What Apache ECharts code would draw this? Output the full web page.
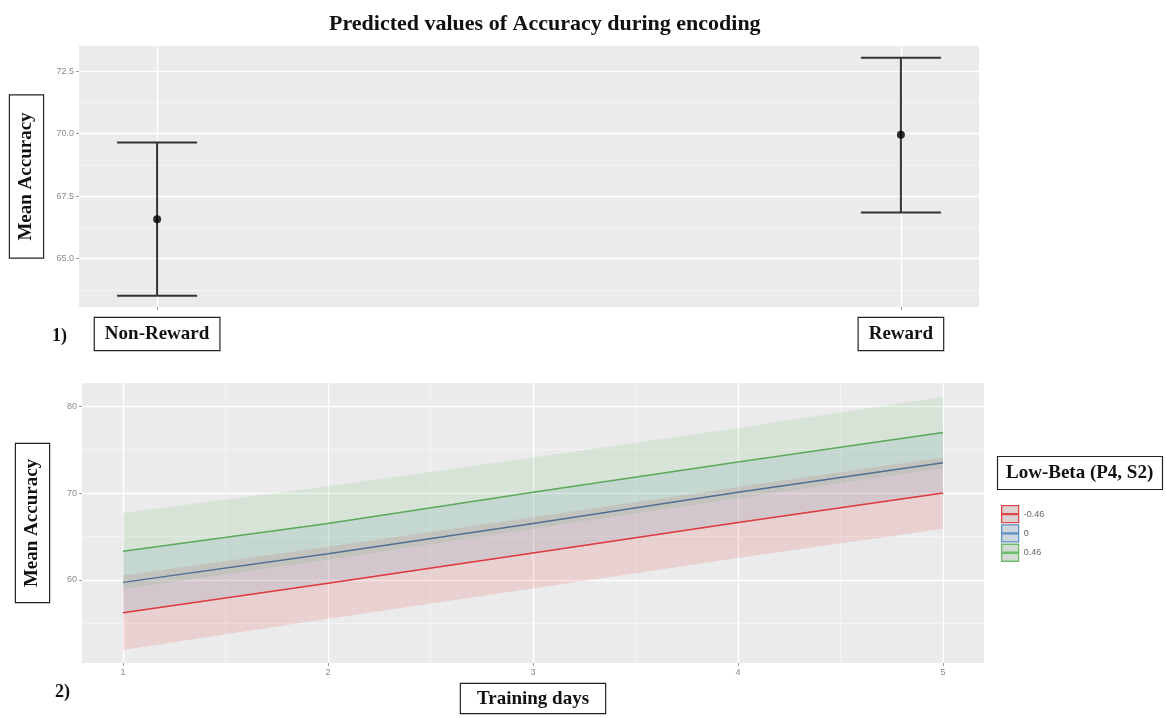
<!DOCTYPE html>
<html><head><meta charset="utf-8">
<script src="https://cdn.jsdelivr.net/npm/echarts@6/dist/echarts.min.js"></script>
<style>html,body{margin:0;padding:0;background:#fff}#c{width:1166px;height:718px}</style>
</head><body><div id="c"></div>
<script>
// ---- Panel 1 data ----
const groups = ['Non-Reward', 'Reward'];
const groupPos = [1, 2];
const groupMean = [66.58, 69.95];
const groupLower = [63.52, 66.85];
const groupUpper = [69.64, 73.03];
const topYMajor = [65, 67.5, 70, 72.5];
const topYMinor = [63.75, 66.25, 68.75, 71.25];

// ---- Panel 2 data ----
const days = [1, 2, 3, 4, 5];
const betaLevels = ['-0.46', '0', '0.46'];
const fitNeg = [56.2, 59.6, 63.1, 66.6, 70.0];
const fitZero = [59.7, 63.0, 66.5, 70.1, 73.5];
const fitPos = [63.3, 66.5, 70.1, 73.6, 77.0];
const lowNeg = [51.9, 55.5, 59.0, 62.5, 65.9];
const upNeg = [60.5, 63.8, 67.2, 70.7, 74.1];
const lowZero = [56.1, 59.5, 63.0, 66.5, 69.9];
const upZero = [63.3, 66.6, 70.1, 73.6, 77.1];
const lowPos = [58.9, 62.3, 65.9, 69.4, 72.9];
const upPos = [67.7, 70.8, 74.1, 77.5, 81.1];
const botYMajor = [60, 70, 80];
const botYMinor = [55, 65, 75];
const botXMinor = [1.5, 2.5, 3.5, 4.5];

const fits = [fitNeg, fitZero, fitPos];
const lows = [lowNeg, lowZero, lowPos];
const ups = [upNeg, upZero, upPos];
const lineColors = ['#e0383c', '#4f6f93', '#5aaa56'];
const fillColors = ['rgba(228,26,28,0.12)', 'rgba(55,126,184,0.12)', 'rgba(77,175,74,0.12)'];
const legendBorder = ['#e04a4c', '#5b8fc8', '#6cbb68'];
const legendFill = ['#dcd0d1', '#cfd6de', '#d3dcd2'];

const serif = '"Liberation Serif", "DejaVu Serif", serif';
const tickFont = { fontFamily: 'Liberation Sans, Arial, sans-serif', fontSize: 9, color: '#8a8a8a' };
const boxText = {
  fontFamily: serif, fontWeight: 'bold', fontSize: 19, color: '#111',
  borderColor: '#222', borderWidth: 1.2, backgroundColor: '#fff'
};

function gridLines(major, minor, axisKey) {
  const d = [];
  major.forEach(v => d.push({ [axisKey]: v, lineStyle: { color: '#ffffff', width: 1.4, type: 'solid' } }));
  minor.forEach(v => d.push({ [axisKey]: v, lineStyle: { color: '#f5f5f5', width: 0.8, type: 'solid' } }));
  return d;
}

const chart = echarts.init(document.getElementById('c'));

const series = [];
// Panel 1 gridlines (carrier series)
series.push({
  type: 'line', xAxisIndex: 0, yAxisIndex: 0, z: 1,
  data: groupPos.map((p, i) => [p, groupMean[i]]),
  lineStyle: { opacity: 0 }, showSymbol: false, symbol: 'none', silent: true,
  markLine: {
    z: 1, silent: true, symbol: ['none', 'none'], label: { show: false },
    data: gridLines(topYMajor, topYMinor, 'yAxis').concat(gridLines(groupPos, [], 'xAxis'))
  }
});
// Error bars
series.push({
  type: 'custom', xAxisIndex: 0, yAxisIndex: 0, z: 3,
  data: groupPos.map((p, i) => [p, groupLower[i], groupUpper[i]]),
  renderItem: function (params, api) {
    const x = api.value(0);
    const top = api.coord([x, api.value(2)]);
    const bot = api.coord([x, api.value(1)]);
    const hw = 40;
    const st = { stroke: '#333', lineWidth: 2 };
    return {
      type: 'group', children: [
        { type: 'line', shape: { x1: top[0], y1: top[1], x2: bot[0], y2: bot[1] }, style: st },
        { type: 'line', shape: { x1: top[0] - hw, y1: top[1], x2: top[0] + hw, y2: top[1] }, style: st },
        { type: 'line', shape: { x1: bot[0] - hw, y1: bot[1], x2: bot[0] + hw, y2: bot[1] }, style: st }
      ]
    };
  }
});
series.push({
  type: 'scatter', xAxisIndex: 0, yAxisIndex: 0, z: 5,
  data: groupPos.map((p, i) => [p, groupMean[i]]),
  symbolSize: 8, itemStyle: { color: '#000' }
});

// Panel 2 gridlines
series.push({
  type: 'line', xAxisIndex: 1, yAxisIndex: 1, z: 1,
  data: days.map((d, i) => [d, fitZero[i]]),
  lineStyle: { opacity: 0 }, showSymbol: false, symbol: 'none', silent: true,
  markLine: {
    z: 1, silent: true, symbol: ['none', 'none'], label: { show: false },
    data: gridLines(botYMajor, botYMinor, 'yAxis').concat(gridLines(days, botXMinor, 'xAxis'))
  }
});
// Ribbons (one polygon per level, through the axis scales)
betaLevels.forEach((lv, k) => {
  series.push({
    name: 'ribbon' + k, type: 'custom', xAxisIndex: 1, yAxisIndex: 1, z: 2, silent: true,
    data: days.map((d, i) => [d, lows[k][i], ups[k][i]]),
    renderItem: function (params, api) {
      if (params.dataIndexInside !== 0) return null;
      const n = params.dataInsideLength;
      const pts = [];
      for (let i = 0; i < n; i++) pts.push(api.coord([api.value(0, i), api.value(1, i)]));
      for (let i = n - 1; i >= 0; i--) pts.push(api.coord([api.value(0, i), api.value(2, i)]));
      return { type: 'polygon', shape: { points: pts }, style: { fill: fillColors[k], stroke: 'none' } };
    }
  });
});
betaLevels.forEach((lv, k) => {
  series.push({
    name: lv, type: 'line', xAxisIndex: 1, yAxisIndex: 1, z: 4,
    data: days.map((d, i) => [d, fits[k][i]]),
    lineStyle: { color: lineColors[k], width: 1.5 }, itemStyle: { color: lineColors[k] },
    showSymbol: false, symbol: 'none'
  });
});

chart.setOption({
  animation: false,
  backgroundColor: '#fff',
  title: [
    { text: 'Predicted values of Accuracy during encoding', left: 324, top: 8,
      textStyle: { fontFamily: serif, fontWeight: 'bold', fontSize: 22, color: '#111' } },
    { text: '1)', left: 47, top: 322, textStyle: { fontFamily: serif, fontWeight: 'bold', fontSize: 18, color: '#111' } },
    { text: '2)', left: 50, top: 678, textStyle: { fontFamily: serif, fontWeight: 'bold', fontSize: 18, color: '#111' } },
    { text: 'Low-Beta (P4, S2)', left: 997, top: 456, padding: [8, 10, 7, 9],
      borderColor: '#222', borderWidth: 1.2,
      textStyle: { fontFamily: serif, fontWeight: 'bold', fontSize: 19, color: '#111' } }
  ],
  legend: {
    orient: 'vertical', left: 996, top: 500, itemWidth: 17, itemHeight: 17, itemGap: 1,
    selectedMode: false, symbolKeepAspect: false,
    data: betaLevels.map((lv, k) => ({
      name: lv, icon: 'path://M0,0H17V17H0Z M0,8H17V9H0Z',
      itemStyle: { color: legendFill[k], borderColor: legendBorder[k], borderWidth: 1.3 }
    })),
    textStyle: { fontFamily: 'Liberation Sans, Arial, sans-serif', fontSize: 9, color: '#666' }
  },
  grid: [
    { left: 79, top: 46, right: 187, bottom: 411, show: true, backgroundColor: '#ebebeb', borderWidth: 0, outerBoundsMode: 'none', containLabel: false },
    { left: 82, top: 383, right: 182, bottom: 55, show: true, backgroundColor: '#ebebeb', borderWidth: 0, outerBoundsMode: 'none', containLabel: false }
  ],
  xAxis: [
    { type: 'value', gridIndex: 0, min: 0.895, max: 2.105,
      axisLine: { show: false }, splitLine: { show: false },
      axisTick: { show: true, length: 3, lineStyle: { color: '#999' }, customValues: groupPos },
      axisLabel: Object.assign({ customValues: groupPos, margin: 11, padding: [7, 10, 6, 10],
        formatter: v => groups[Math.round(v) - 1] }, boxText) },
    { type: 'value', gridIndex: 1, min: 0.8, max: 5.2,
      axisLine: { show: false }, splitLine: { show: false },
      axisTick: { show: true, length: 3, lineStyle: { color: '#999' }, customValues: days },
      axisLabel: Object.assign({ customValues: days, margin: 5 }, tickFont),
      name: 'Training days', nameLocation: 'middle', nameGap: 21,
      nameTextStyle: Object.assign({ padding: [6, 16, 4, 16] }, boxText) }
  ],
  yAxis: [
    { type: 'value', gridIndex: 0, min: 63.07, max: 73.5,
      axisLine: { show: false }, splitLine: { show: false },
      axisTick: { show: true, length: 3, lineStyle: { color: '#999' }, customValues: topYMajor },
      axisLabel: Object.assign({ customValues: topYMajor, margin: 5, formatter: v => v.toFixed(1) }, tickFont),
      name: 'Mean Accuracy', nameLocation: 'middle', nameRotate: 90, nameGap: 36,
      nameTextStyle: Object.assign({ padding: [7, 17, 7, 17] }, boxText) },
    { type: 'value', gridIndex: 1, min: 50.4, max: 82.7,
      axisLine: { show: false }, splitLine: { show: false },
      axisTick: { show: true, length: 3, lineStyle: { color: '#999' }, customValues: botYMajor },
      axisLabel: Object.assign({ customValues: botYMajor, margin: 5 }, tickFont),
      name: 'Mean Accuracy', nameLocation: 'middle', nameRotate: 90, nameGap: 33,
      nameTextStyle: Object.assign({ padding: [7, 15, 7, 15] }, boxText) }
  ],
  series: series
});
</script>
</body></html>
